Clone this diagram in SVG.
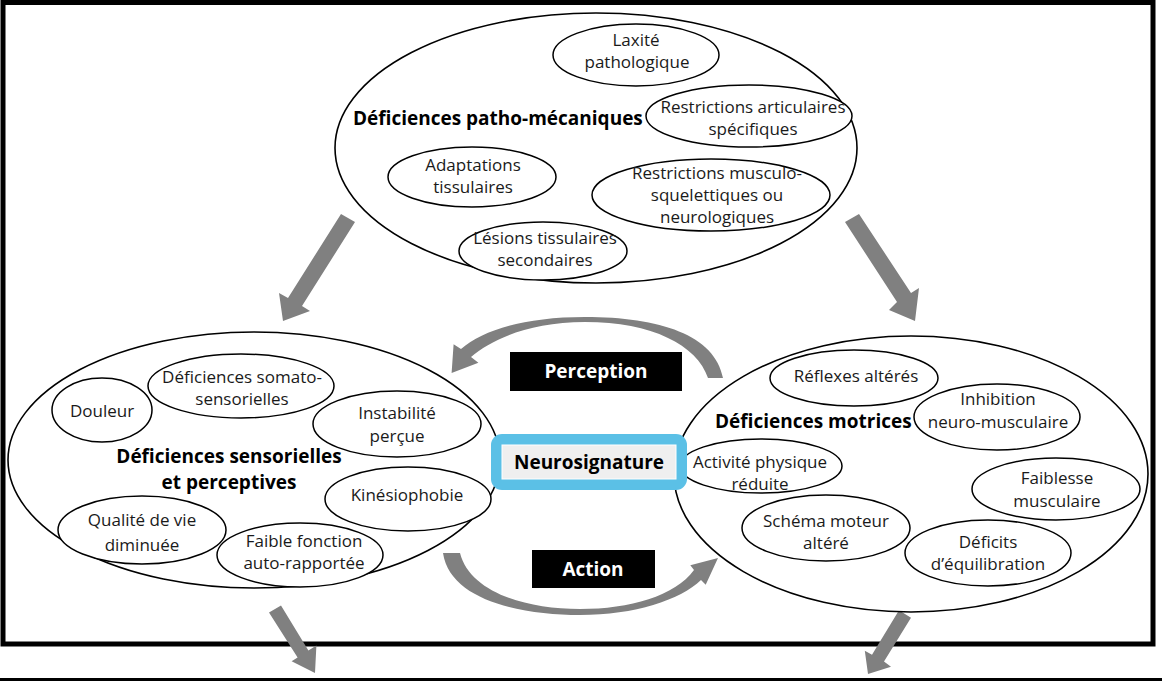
<svg xmlns="http://www.w3.org/2000/svg" width="1162" height="681" viewBox="0 0 1162 681">
  <defs>
    <style>
      .big { fill: #ffffff; stroke: #000000; stroke-width: 1.6; }
      .sub { fill: #ffffff; stroke: #000000; stroke-width: 1.5; }
      .t { font-family: "Open Sans", "Noto Sans", sans-serif; font-size: 17px; fill: #1a1a1a; text-anchor: middle; }
      .title { font-family: "Open Sans", "Noto Sans", sans-serif; font-size: 19px; font-weight: bold; fill: #000000; }
      .lbl { font-family: "Open Sans", "Noto Sans", sans-serif; font-size: 19px; font-weight: bold; fill: #ffffff; text-anchor: middle; }
      .arrow { fill: #808080; }
    </style>
  </defs>

  <rect x="0" y="0" width="1162" height="681" fill="#ffffff"/>

  <!-- frame -->
  <rect x="3" y="2.5" width="1150" height="641.5" fill="none" stroke="#000000" stroke-width="5"/>
  <line x1="0" y1="679.5" x2="1162" y2="679.5" stroke="#000000" stroke-width="3"/>

  <!-- connectors -->
  <g id="connectors">
    <!-- straight block arrows -->
    <path class="arrow" d="M341,214 L355,222 L302,306 L310,311 L283,321 L279,293 L288,298 Z"/>
    <path class="arrow" d="M845,222 L859,214 L911,293 L919,288 L915,321 L889,310 L897,302 Z"/>
    <path class="arrow" d="M269,612.6 L281,605.4 L308.4,650.5 L316.4,645.5 L315,673 L291.6,661.3 L297.6,657.5 Z"/>
    <path class="arrow" d="M899,610.3 L911,617.7 L884,661.5 L891,666.7 L868,674 L864.8,650.7 L872,654.8 Z"/>
    <!-- curved block arrow: perception (right to left, over the top) -->
    <path class="arrow" d="M723,378 C715,335 660,317 585,317 C525,317 483,330 461,349 L453.6,344.2 L451.6,373 L478.4,362.8 L471,357 C492,339 530,322 585,322 C652,322 697,345 708,378 Z"/>
    <!-- curved block arrow: action (left to right, under the bottom) -->
    <path class="arrow" d="M443,553 C450,600 520,615 580,615 C635,615 680,600 701,580 L705.7,584.7 L718,558 L690.3,565.3 L694,570 C675,596 630,609 580,609 C525,609 470,592 460,553 Z"/>
  </g>

  <!-- patho-mechanical group -->
  <g id="patho-mecaniques">
    <ellipse class="big" cx="596" cy="148" rx="261" ry="135"/>
    <text class="title" x="353" y="125">Déficiences patho-mécaniques</text>
  </g>
  <g id="laxite">
    <ellipse class="sub" cx="636" cy="55" rx="83" ry="31"/>
    <text class="t" x="636" y="46">Laxité</text>
    <text class="t" x="637" y="68">pathologique</text>
  </g>
  <g id="restrictions-articulaires">
    <ellipse class="sub" cx="749" cy="116" rx="103" ry="31"/>
    <text class="t" x="753" y="113">Restrictions articulaires</text>
    <text class="t" x="753" y="135">spécifiques</text>
  </g>
  <g id="adaptations">
    <ellipse class="sub" cx="472" cy="177" rx="84" ry="30"/>
    <text class="t" x="473" y="171">Adaptations</text>
    <text class="t" x="473" y="193">tissulaires</text>
  </g>
  <g id="restrictions-musculo">
    <ellipse class="sub" cx="711" cy="195" rx="119" ry="36"/>
    <text class="t" x="717" y="179">Restrictions musculo-</text>
    <text class="t" x="717" y="201">squelettiques ou</text>
    <text class="t" x="717" y="223">neurologiques</text>
  </g>
  <g id="lesions">
    <ellipse class="sub" cx="543" cy="251" rx="84" ry="29"/>
    <text class="t" x="545" y="244">Lésions tissulaires</text>
    <text class="t" x="545" y="266">secondaires</text>
  </g>

  <!-- sensory and perceptual group -->
  <g id="sensorielles">
    <ellipse class="big" cx="254" cy="460" rx="246" ry="128"/>
    <text class="title" x="229" y="463" text-anchor="middle">Déficiences sensorielles</text>
    <text class="title" x="229" y="489" text-anchor="middle">et perceptives</text>
  </g>
  <g id="douleur">
    <ellipse class="sub" cx="102" cy="410" rx="50" ry="32"/>
    <text class="t" x="102" y="417">Douleur</text>
  </g>
  <g id="somato">
    <ellipse class="sub" cx="241" cy="386" rx="93" ry="32"/>
    <text class="t" x="242" y="383">Déficiences somato-</text>
    <text class="t" x="242" y="405">sensorielles</text>
  </g>
  <g id="instabilite">
    <ellipse class="sub" cx="397" cy="424" rx="84" ry="33"/>
    <text class="t" x="397" y="419">Instabilité</text>
    <text class="t" x="397" y="442">perçue</text>
  </g>
  <g id="kinesiophobie">
    <ellipse class="sub" cx="408" cy="499" rx="83" ry="32"/>
    <text class="t" x="407" y="501">Kinésiophobie</text>
  </g>
  <g id="qualite">
    <ellipse class="sub" cx="142" cy="530" rx="84" ry="34"/>
    <text class="t" x="142" y="526">Qualité de vie</text>
    <text class="t" x="142" y="551">diminuée</text>
  </g>
  <g id="fonction">
    <ellipse class="sub" cx="300" cy="555" rx="83" ry="32"/>
    <text class="t" x="304" y="547">Faible fonction</text>
    <text class="t" x="304" y="569">auto-rapportée</text>
  </g>

  <!-- motor group -->
  <g id="motrices">
    <ellipse class="big" cx="911" cy="474" rx="237" ry="138"/>
    <text class="title" x="715" y="428">Déficiences motrices</text>
  </g>
  <g id="reflexes">
    <ellipse class="sub" cx="854" cy="378" rx="84" ry="28"/>
    <text class="t" x="856" y="382">Réflexes altérés</text>
  </g>
  <g id="inhibition">
    <ellipse class="sub" cx="997" cy="417" rx="83" ry="33"/>
    <text class="t" x="998" y="405">Inhibition</text>
    <text class="t" x="998" y="428">neuro-musculaire</text>
  </g>
  <g id="activite">
    <ellipse class="sub" cx="761" cy="466" rx="81" ry="27"/>
    <text class="t" x="760" y="468">Activité physique</text>
    <text class="t" x="760" y="490">réduite</text>
  </g>
  <g id="faiblesse">
    <ellipse class="sub" cx="1056" cy="489" rx="84" ry="31"/>
    <text class="t" x="1057" y="484">Faiblesse</text>
    <text class="t" x="1057" y="507">musculaire</text>
  </g>
  <g id="schema">
    <ellipse class="sub" cx="826" cy="528" rx="84" ry="33"/>
    <text class="t" x="826" y="527">Schéma moteur</text>
    <text class="t" x="826" y="549">altéré</text>
  </g>
  <g id="equilibration">
    <ellipse class="sub" cx="988" cy="553" rx="83" ry="33"/>
    <text class="t" x="988" y="548">Déficits</text>
    <text class="t" x="988" y="570">d’équilibration</text>
  </g>

  <!-- centre -->
  <g id="neurosignature">
    <rect x="491" y="434" width="196" height="56" rx="11" fill="#5bc0e6"/>
    <rect x="502" y="445" width="174" height="34" fill="#efefef" stroke="#ffffff" stroke-width="1"/>
    <text class="title" x="589" y="469" text-anchor="middle">Neurosignature</text>
  </g>
  <g id="perception">
    <rect x="510" y="352" width="172" height="39" fill="#000000"/>
    <text class="lbl" x="596" y="378">Perception</text>
  </g>
  <g id="action">
    <rect x="532" y="550" width="123" height="38" fill="#000000"/>
    <text class="lbl" x="593" y="576">Action</text>
  </g>
</svg>
